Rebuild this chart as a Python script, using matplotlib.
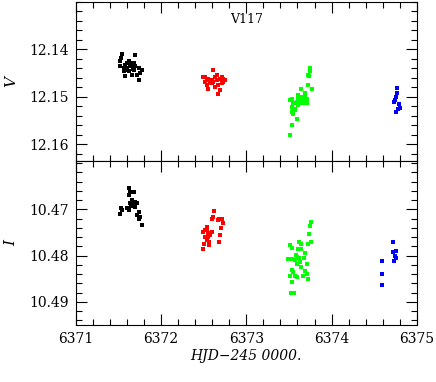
import matplotlib
matplotlib.use('Agg')
import matplotlib.pyplot as plt
from matplotlib.ticker import MultipleLocator, FormatStrFormatter

plt.rcParams['font.family'] = 'DejaVu Serif'
plt.rcParams['font.size'] = 10

# ------------------------------------------------------------------ #
# ------------------------- V band data ---------------------------- #
# ------------------------------------------------------------------ #
v1_hjd = [6371.540, 6371.532, 6371.520, 6371.696, 6371.579, 6371.618, 6371.638,
          6371.657, 6371.598, 6371.559, 6371.618, 6371.677, 6371.735, 6371.774,
          6371.755, 6371.716, 6371.579, 6371.657, 6371.735, 6371.520, 6371.638,
          6371.696, 6371.579, 6371.665, 6371.598, 6371.677, 6371.559]
v1_mag = [12.1411, 12.1418, 12.1426, 12.1413, 12.1433, 12.1426, 12.1429,
          12.1433, 12.1440, 12.1447, 12.1447, 12.1443, 12.1440, 12.1443,
          12.1450, 12.1454, 12.1457, 12.1454, 12.1465, 12.1436, 12.1436,
          12.1436, 12.1443, 12.1442, 12.1429, 12.1429, 12.1440]

v2_hjd = [6372.611, 6372.513, 6372.552, 6372.592, 6372.572, 6372.533, 6372.631,
          6372.650, 6372.689, 6372.728, 6372.748, 6372.709, 6372.669, 6372.631,
          6372.552, 6372.611, 6372.513, 6372.689, 6372.669, 6372.592, 6372.650,
          6372.728, 6372.493, 6372.572, 6372.533, 6372.709]
v2_mag = [12.1445, 12.1458, 12.1462, 12.1465, 12.1472, 12.1476, 12.1458,
          12.1465, 12.1462, 12.1462, 12.1465, 12.1472, 12.1476, 12.1479,
          12.1483, 12.1469, 12.1469, 12.1487, 12.1494, 12.1472, 12.1455,
          12.1469, 12.1458, 12.1465, 12.1465, 12.1458]

v3_hjd = [6373.745, 6373.745, 6373.733, 6373.725, 6373.718, 6373.776, 6373.647,
          6373.608, 6373.628, 6373.686, 6373.706, 6373.667, 6373.686, 6373.608,
          6373.530, 6373.510, 6373.549, 6373.628, 6373.667, 6373.706, 6373.530,
          6373.549, 6373.569, 6373.549, 6373.530, 6373.589, 6373.537, 6373.510,
          6373.647, 6373.589, 6373.667, 6373.569, 6373.608, 6373.686, 6373.569]
v3_mag = [12.1440, 12.1447, 12.1457, 12.1454, 12.1475, 12.1484, 12.1484,
          12.1496, 12.1500, 12.1493, 12.1504, 12.1507, 12.1511, 12.1504,
          12.1504, 12.1507, 12.1514, 12.1514, 12.1514, 12.1514, 12.1521,
          12.1525, 12.1528, 12.1536, 12.1532, 12.1546, 12.1560, 12.1581,
          12.1507, 12.1511, 12.1500, 12.1514, 12.1518, 12.1496, 12.1525]

v4_hjd = [6374.769, 6374.769, 6374.754, 6374.742, 6374.730, 6374.789, 6374.801,
          6374.781, 6374.754]
v4_mag = [12.1481, 12.1493, 12.1500, 12.1507, 12.1512, 12.1516, 12.1523,
          12.1526, 12.1532]

# ------------------------------------------------------------------ #
# ------------------------- I band data ---------------------------- #
# ------------------------------------------------------------------ #
i1_hjd = [6371.626, 6371.637, 6371.677, 6371.618, 6371.657, 6371.688, 6371.637,
          6371.677, 6371.716, 6371.696, 6371.598, 6371.618, 6371.540, 6371.520,
          6371.735, 6371.716, 6371.755, 6371.735, 6371.774, 6371.665, 6371.645,
          6371.530]
i1_mag = [10.4654, 10.4662, 10.4663, 10.4669, 10.4680, 10.4683, 10.4687,
          10.4691, 10.4687, 10.4694, 10.4698, 10.4701, 10.4701, 10.4709,
          10.4705, 10.4712, 10.4716, 10.4720, 10.4733, 10.4685, 10.4692,
          10.4698]

i2_hjd = [6372.623, 6372.611, 6372.592, 6372.662, 6372.677, 6372.716, 6372.728,
          6372.701, 6372.533, 6372.513, 6372.493, 6372.545, 6372.552, 6372.572,
          6372.513, 6372.533, 6372.560, 6372.505, 6372.493, 6372.689, 6372.677,
          6372.592, 6372.540, 6372.560]
i2_mag = [10.4703, 10.4716, 10.4720, 10.4723, 10.4720, 10.4720, 10.4730,
          10.4741, 10.4739, 10.4745, 10.4748, 10.4752, 10.4759, 10.4756,
          10.4759, 10.4767, 10.4770, 10.4774, 10.4785, 10.4756, 10.4770,
          10.4748, 10.4745, 10.4778]

i3_hjd = [6373.757, 6373.745, 6373.733, 6373.616, 6373.647, 6373.725, 6373.757,
          6373.510, 6373.530, 6373.608, 6373.647, 6373.694, 6373.577, 6373.600,
          6373.616, 6373.491, 6373.530, 6373.679, 6373.628, 6373.706, 6373.647,
          6373.537, 6373.549, 6373.686, 6373.510, 6373.569, 6373.589, 6373.667,
          6373.706, 6373.718, 6373.537, 6373.522, 6373.561, 6373.600, 6373.569]
i3_mag = [10.4728, 10.4736, 10.4753, 10.4770, 10.4775, 10.4775, 10.4771,
          10.4777, 10.4784, 10.4786, 10.4786, 10.4795, 10.4799, 10.4802,
          10.4806, 10.4807, 10.4807, 10.4806, 10.4813, 10.4817, 10.4825,
          10.4830, 10.4835, 10.4833, 10.4844, 10.4844, 10.4847, 10.4844,
          10.4840, 10.4851, 10.4857, 10.4880, 10.4880, 10.4817, 10.4809]

i4_hjd = [6374.715, 6374.722, 6374.754, 6374.742, 6374.750, 6374.734, 6374.586,
          6374.586, 6374.593]
i4_mag = [10.4770, 10.4791, 10.4789, 10.4801, 10.4804, 10.4812, 10.4812,
          10.4840, 10.4863]

v_ticks = [12.14, 12.15, 12.16]
i_ticks = [10.47, 10.48, 10.49]
x_ticks = [6371, 6372, 6373, 6374, 6375]

colors = ['black', '#ff0000', '#00ff00', '#0000ff']
v_sets = [(v1_hjd, v1_mag), (v2_hjd, v2_mag), (v3_hjd, v3_mag), (v4_hjd, v4_mag)]
i_sets = [(i1_hjd, i1_mag), (i2_hjd, i2_mag), (i3_hjd, i3_mag), (i4_hjd, i4_mag)]

# ------------------------------------------------------------------ #
# --------------------------- FIGURE ------------------------------- #
# ------------------------------------------------------------------ #
fig = plt.figure(figsize=(4.36, 3.82), dpi=100)
ax1 = fig.add_axes([0.174, 0.579, 0.782, 0.417])
ax2 = fig.add_axes([0.174, 0.149, 0.782, 0.430], sharex=ax1)

for (t, m), c in zip(v_sets, colors):
  ax1.plot(t, m, ls='', marker='s', ms=2.2, mew=0, color=c)
for (t, m), c in zip(i_sets, colors):
  ax2.plot(t, m, ls='', marker='s', ms=2.2, mew=0, color=c)

ax1.set_xlim(6371, 6375)
ax1.set_ylim(12.1635, 12.130)
ax2.set_ylim(10.495, 10.4595)
ax1.set_yticks(v_ticks)
ax2.set_yticks(i_ticks)
ax2.set_xticks(x_ticks)

for ax in (ax1, ax2):
  ax.xaxis.set_minor_locator(MultipleLocator(0.2))
  ax.yaxis.set_minor_locator(MultipleLocator(0.002))
  ax.yaxis.set_major_formatter(FormatStrFormatter('%.2f'))
  ax.tick_params(which='both', direction='in', top=True, right=True, width=0.8)
  ax.tick_params(which='major', length=8, labelsize=10, pad=5)
  ax.tick_params(which='minor', length=4)
  for s in ax.spines.values():
    s.set_linewidth(0.8)

ax2.xaxis.set_major_formatter(FormatStrFormatter('%d'))
plt.setp(ax1.get_xticklabels(), visible=False)

ax1.text(0.5, 0.89, 'V117', transform=ax1.transAxes, ha='center', va='center', fontsize=9)
ax1.set_ylabel('V', style='italic', fontsize=11)
ax2.set_ylabel('I', style='italic', fontsize=11)
ax2.set_xlabel('HJD\u2212245 0000.', style='italic', fontsize=10, labelpad=2)
ax1.yaxis.set_label_coords(-0.17, 0.5)
ax2.yaxis.set_label_coords(-0.17, 0.5)

fig.savefig('out.png', dpi=100)
